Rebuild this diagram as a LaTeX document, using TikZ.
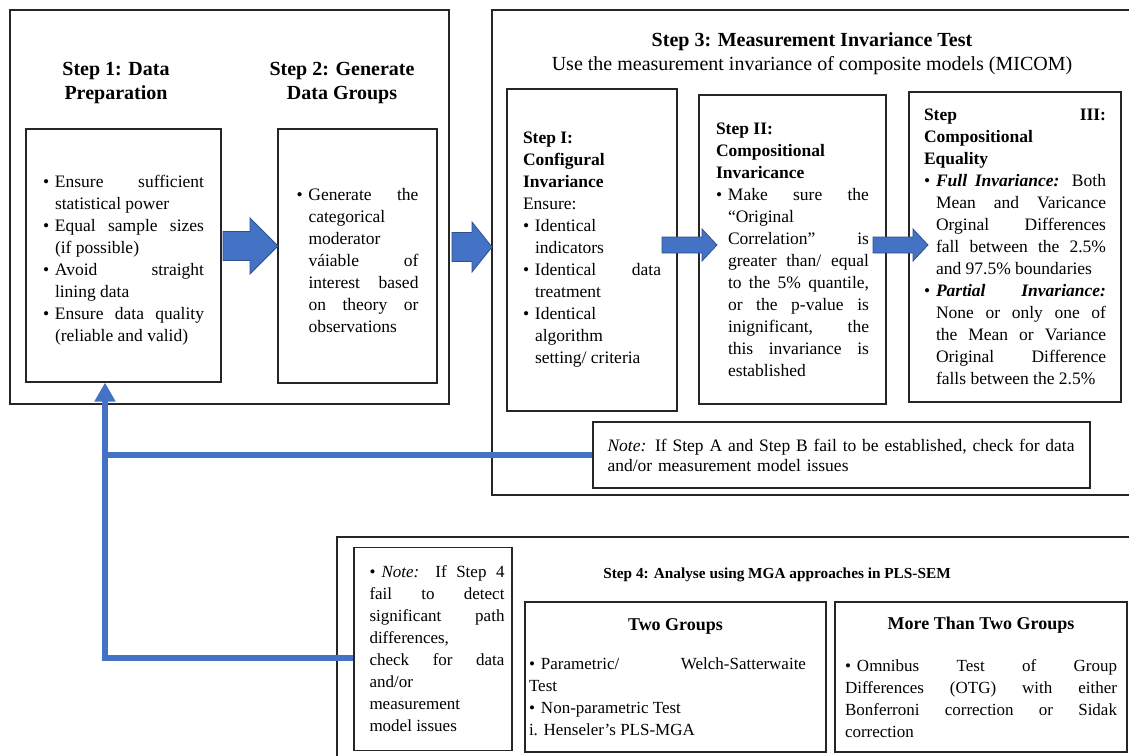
\documentclass[tikz,border=0pt]{standalone}
\usepackage{fontspec}
\setmainfont{Liberation Serif}
\usetikzlibrary{arrows.meta,calc}
\definecolor{wordblue}{HTML}{4472C4}
\definecolor{wordedge}{HTML}{2F528F}
\definecolor{ink}{HTML}{262626}
\newcommand\boxfont[2]{\fontsize{#1}{#2}\selectfont\parindent=0pt\hyphenpenalty=10000\exhyphenpenalty=10000\tolerance=10000\hbadness=10000\hfuzz=20pt}
\newcommand\titletxt{\fontsize{20}{24}\selectfont\bfseries}
\newcommand\bul{\par\hangindent=12pt\hangafter=1\noindent\hbox to 12pt{\textbullet\hfil}\ignorespaces}
\newcommand\pbul{\noindent\hbox to 12pt{\textbullet\hfil}\ignorespaces}
\newcommand\nl{\linebreak}
\newcommand\fatarrow[5]{% tail, tip, shaft half, head half, head length
  \draw[fat] ($(#1)+(0,#3)$) -- ($(#2)+(-#5,#3)$) -- ($(#2)+(-#5,#4)$) -- (#2)
    -- ($(#2)+(-#5,-#4)$) -- ($(#2)+(-#5,-#3)$) -- ($(#1)+(0,-#3)$) -- cycle;}

\begin{document}
\begin{tikzpicture}[x=1pt,y=-1pt,
  frame/.style={draw=ink,line width=1.1pt},
  b/.style={frame,inner sep=0pt,align=justify,font={\boxfont{17.5}{22}}},
  bs/.style={b,font={\boxfont{17}{22}}},
  ttl/.style={align=center,font=\titletxt},
  fb/.style={wordblue,line width=5.5pt},
  fat/.style={fill=wordblue,draw=wordedge,line width=0.8pt}]
\path[use as bounding box,clip] (0,0) rectangle (1129,755);

% outer frames
\node[frame,minimum width=439pt,minimum height=394pt] (outer12) at (229.5,207) {};
\node[frame,minimum width=648pt,minimum height=485pt] (outer3) at (816,252.5) {};
\node[frame,minimum width=803pt,minimum height=233pt] (outer4) at (738.5,653.5) {};

% steps 1 and 2
\node[ttl] (t1) at (116,83.5) {Step 1: Data\\Preparation};
\node[ttl] (t2) at (342,83.5) {Step 2: Generate\\Data Groups};

\node[b,minimum width=195pt,minimum height=253pt,text width=161pt] (prep) at (123.5,255.5)
  {\bul Ensure sufficient\nl statistical power
   \bul Equal sample sizes\nl (if possible)
   \bul Avoid straight\nl lining data
   \bul Ensure data quality\nl (reliable and valid)\par};
\node[b,minimum width=159pt,minimum height=254pt,text width=122pt] (grp) at (357.5,256)
  {\bul Generate the\nl categorical\nl moderator\nl váiable of\nl interest based\nl on theory or\nl observations\par};

% step 3
\node[ttl] (t3) at (812,54) {Step 3: Measurement Invariance Test\\{\mdseries Use the measurement invariance of composite models (MICOM)}};

\node[b,minimum width=170pt,minimum height=322pt,text width=138pt] (config) at (592,250)
  {{\bfseries Step I:\par Configural\par Invariance\par}Ensure:
   \bul Identical\nl indicators
   \bul Identical data\nl treatment
   \bul Identical\nl algorithm\nl setting/ criteria\par};
\node[b,minimum width=187pt,minimum height=309pt,text width=153pt] (comp) at (792.5,249.5)
  {{\bfseries Step II:\par Compositional\par Invaricance\par}
   \bul Make sure the\nl “Original\nl Correlation” is\nl greater than/ equal\nl to the 5\% quantile,\nl or the p-value is\nl inignificant, the\nl this invariance is\nl established\par};
\node[b,minimum width=212pt,minimum height=310pt,text width=182pt] (equal) at (1015,247)
  {{\bfseries Step III:\nl Compositional\nl Equality\par}
   \bul {\bfseries\itshape Full Invariance:} Both\nl Mean and Varicance\nl Orginal Differences\nl fall between the 2.5\%\nl and 97.5\% boundaries
   \bul {\bfseries\itshape Partial Invariance:}\nl None or only one of\nl the Mean or Variance\nl Original Difference\nl falls between the 2.5\%\par};

\node[b,align=left,font={\boxfont{17.5}{20}},minimum width=497pt,minimum height=66pt,text width=468pt] (note) at (841.5,455)
  {\emph{Note:} If Step A and Step B fail to be established, check for data\\and/or measurement model issues};

% step 4
\node[font=\fontsize{15.3}{19}\selectfont\bfseries] (t4) at (777,575) {Step 4: Analyse using MGA approaches in PLS-SEM};

\node[bs,minimum width=158pt,minimum height=203pt,text width=143pt] (note4) at (433,649)
  {\leftskip=8pt\pbul\emph{Note:} If Step 4\nl fail to detect\nl significant path\nl differences,\nl check for data\nl and/or\nl measurement\nl model issues\par};
\node[bs,minimum width=301pt,minimum height=150pt,text width=293pt] (two) at (675.5,677)
  {{\centering\bfseries\fontsize{18}{22}\selectfont Two Groups\par}\vspace{17pt}\rightskip=16pt
   \pbul Parametric/ Welch-Satterwaite\nl Test\par
   \pbul Non-parametric Test\par
   i. Henseler’s PLS-MGA\par};
\node[bs,minimum width=292pt,minimum height=150pt,text width=272pt] (more) at (981,677)
  {{\centering\bfseries\fontsize{18}{22}\selectfont More Than Two Groups\par}\vspace{20pt}
   \pbul Omnibus Test of Group\nl Differences (OTG) with either\nl Bonferroni correction or Sidak\nl correction\par};

% block arrows
\coordinate (a1t) at (223,246);  \coordinate (a1h) at (278,246);
\coordinate (a2t) at (452,247);  \coordinate (a2h) at (492,247);
\coordinate (a3t) at (662,245);  \coordinate (a3h) at (717,245);
\coordinate (a4t) at (873,245);  \coordinate (a4h) at (928,245);
\fatarrow{a1t}{a1h}{14.5}{28}{28}
\fatarrow{a2t}{a2h}{14.5}{25}{20}
\fatarrow{a3t}{a3h}{8}{16}{15}
\fatarrow{a4t}{a4h}{8}{16}{15}

% feedback back to step 1
\coordinate (lp) at (105,658);
\draw[fb,-{Triangle[width=20pt,length=19pt]}] (note4.west |- lp) -- (lp) -- (lp |- prep.south);
\draw[fb] (lp |- note.west) -- (note.west);
\end{tikzpicture}
\end{document}
